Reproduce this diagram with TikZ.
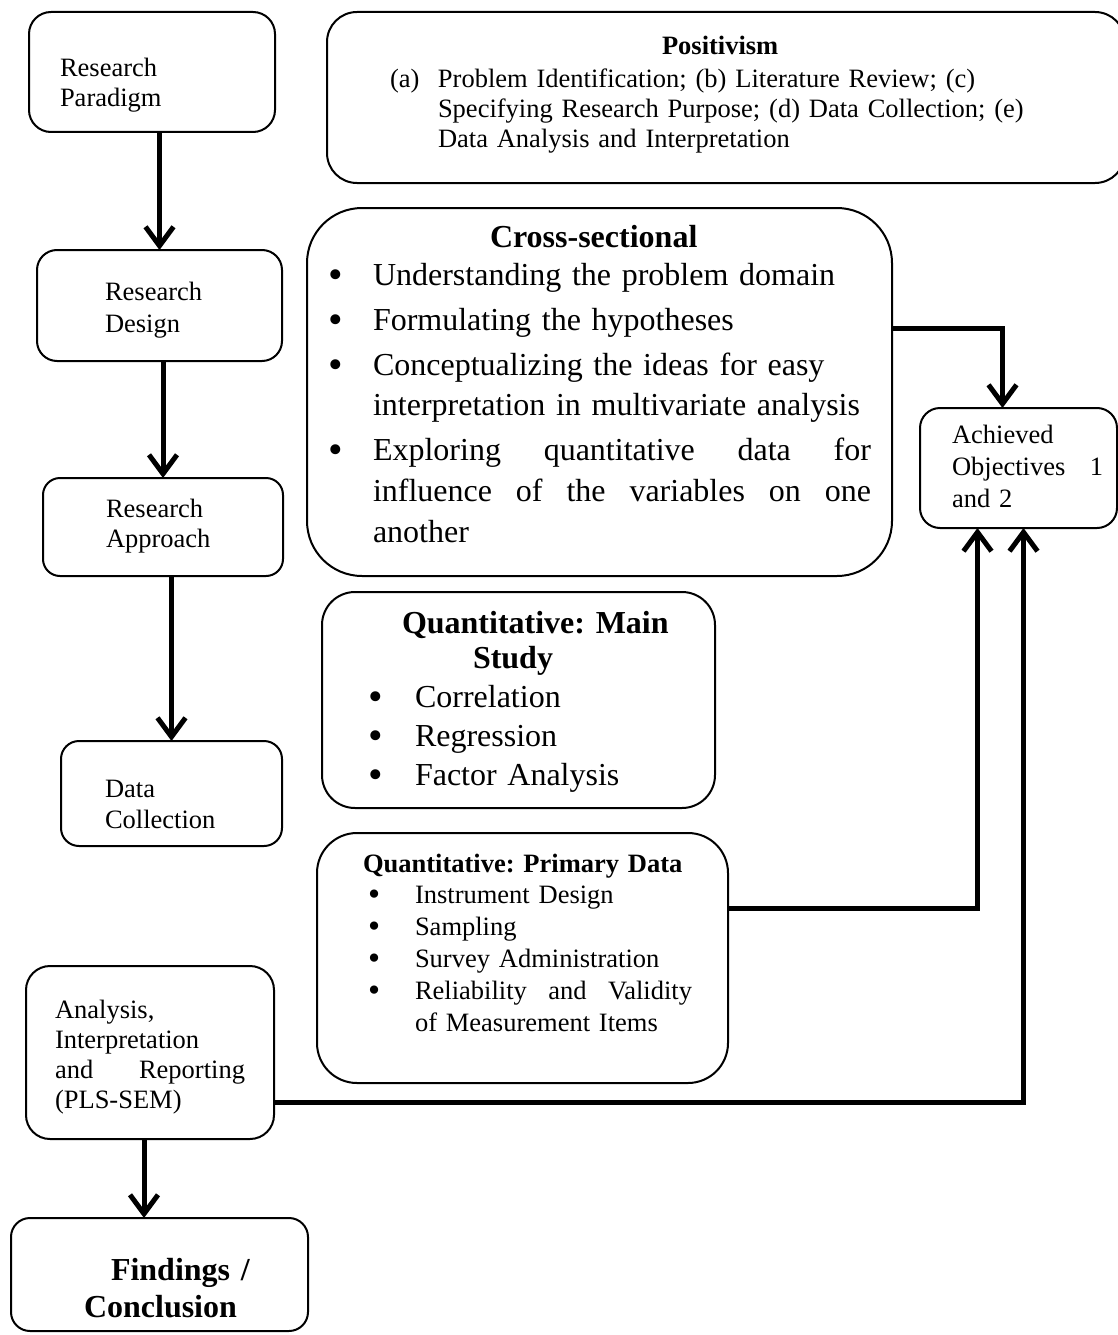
\documentclass[tikz,border=0pt]{standalone}
\usepackage{fontspec}
\usepackage{graphicx}
\setmainfont{Liberation Serif}
\usetikzlibrary{positioning, arrows.meta}
\frenchspacing
\newcommand\smalltxt{\fontsize{26.5}{30}\selectfont}
\newcommand\midtxt{\fontsize{26.5}{32}\selectfont}
\newcommand\bigtxt{\fontsize{32}{41}\selectfont}
\newcommand\bul[1][45pt]{\makebox[#1][l]{\raisebox{-0.1em}[0.5em][0pt]{\scalebox{1.3}{\textbullet}}}}
\tikzset{
  block/.style={
    draw,
    rectangle,
    line width=2pt,
    anchor=north west,
    inner sep=0pt,
    outer sep=0pt,
    align=left,
    font=\smalltxt,
    text height=20pt
  },
  lift/.style={text depth=#1},
  link/.style={
    line width=5pt,
    -{Straight Barb[length=19pt,width=28pt]}
  }
}
\begin{document}
\begin{tikzpicture}[x=1pt, y=-1pt]
    \useasboundingbox (0,0) rectangle (1117,1335);

    % left column
    \node[block, minimum width=246pt, minimum height=120pt, rounded corners=22pt, text width=184pt, lift=10pt] (paradigm) at (29,12) {Research\\Paradigm};
    \node[block, minimum width=245pt, minimum height=111pt, rounded corners=20pt, text width=109pt, lift=31pt, font=\midtxt] (design) at (37,250) {Research\\Design};
    \node[block, minimum width=240pt, minimum height=98pt, rounded corners=17pt, text width=114pt, lift=40pt] (approach) at (43,478) {Research\\Approach};
    \node[block, minimum width=221pt, minimum height=105pt, rounded corners=18pt, text width=133pt, lift=13pt, font=\fontsize{26.5}{31}\selectfont] (datacol) at (61,741) {Data\\Collection};
    \node[block, minimum width=248pt, minimum height=173pt, rounded corners=24pt, text width=190pt, lift=89pt] (analysis) at (26,966) {Analysis,\\Interpretation\\and\hfill Reporting\hspace*{8pt}\\(PLS-SEM)};
    \node[block, minimum width=297pt, minimum height=113pt, rounded corners=19pt, text width=217pt, lift=9pt, font={\bigtxt\bfseries}] (findings) at (11,1218) {\hspace*{60pt}Findings /\\[-4pt]
      \hspace*{33pt}Conclusion};

    % middle column
    \node[block, minimum width=798pt, minimum height=171pt, rounded corners=30pt, text width=672pt, lift=105pt] (positivism) at (327,12) {\hspace*{272pt}\textbf{Positivism}\\[3pt]
      \makebox[48pt][l]{(a)}Problem Identification; (b) Literature Review; (c)\\
      \hspace*{48pt}Specifying Research Purpose; (d) Data Collection; (e)\\
      \hspace*{48pt}Data Analysis and Interpretation};
    \node[block, minimum width=585pt, minimum height=368pt, rounded corners=55pt, text width=543pt, lift=310pt, font=\bigtxt] (crosssec) at (307,208) {\hspace*{162pt}\textbf{Cross-sectional}\\[-3pt]
      \bul Understanding the problem domain\\[4pt]
      \bul Formulating the hypotheses\\[4pt]
      \bul Conceptualizing the ideas for easy\\[-1pt]
      \hspace*{45pt}interpretation in multivariate analysis\\[4pt]
      \bul Exploring\hfill quantitative\hfill data\hfill for\\
      \hspace*{45pt}influence\hfill of\hfill the\hfill variables\hfill on\hfill one\\
      \hspace*{45pt}another};
    \node[block, minimum width=393pt, minimum height=216pt, rounded corners=33pt, text width=321pt, lift=154pt, font=\fontsize{32}{39}\selectfont] (main) at (322,592) {\hspace*{44pt}\textbf{Quantitative: Main}\\[-4pt]
      \hspace*{115pt}\textbf{Study}\\
      \hspace*{10pt}\bul[47pt]Correlation\\
      \hspace*{10pt}\bul[47pt]Regression\\
      \hspace*{10pt}\bul[47pt]Factor Analysis};
    \node[block, minimum width=411pt, minimum height=250pt, rounded corners=40pt, text width=339pt, lift=192pt, font=\midtxt] (primary) at (317,833) {\hspace*{10pt}\textbf{Quantitative: Primary Data}\\[-1pt]
      \hspace*{15pt}\bul[47pt]Instrument Design\\
      \hspace*{15pt}\bul[47pt]Sampling\\
      \hspace*{15pt}\bul[47pt]Survey Administration\\
      \hspace*{15pt}\bul[47pt]Reliability\hfill and\hfill Validity\hspace*{9pt}\\
      \hspace*{62pt}of Measurement Items};

    % right column
    \node[block, minimum width=197pt, minimum height=120pt, rounded corners=20pt, text width=169pt, lift=70pt, font=\midtxt] (achieved) at (920,408) {\hspace*{18pt}Achieved\\
      \hspace*{18pt}Objectives\hfill 1\\
      \hspace*{18pt}and 2};

    \coordinate (a2f) at ([xshift=-6pt]analysis.south);

    \draw[link] (paradigm.south -| design.north) -- (design.north);
    \draw[link] (design.south -| approach.north) -- (approach.north);
    \draw[link] (approach.south -| datacol.north) -- (datacol.north);
    \draw[link] (a2f) -- (a2f |- findings.north);
    \draw[link] ([yshift=64pt]crosssec.east) -| ([xshift=-16pt]achieved.north);
    \draw[link] ([yshift=50pt]primary.east) -| ([xshift=-41pt]achieved.south);
    \draw[link] ([yshift=-50pt]analysis.east) -| ([xshift=5pt]achieved.south);
\end{tikzpicture}
\end{document}
